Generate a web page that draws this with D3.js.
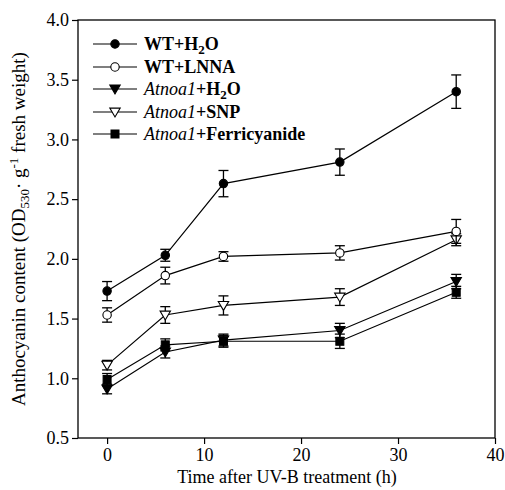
<!DOCTYPE html>
<html>
<head>
<meta charset="utf-8">
<script src="https://cdn.jsdelivr.net/npm/d3@7/dist/d3.min.js"></script>
<style>
body{margin:0;background:#fff;}
text{font-family:"Liberation Serif","Times New Roman",serif;}
</style>
</head>
<body>
<svg id="c" width="505" height="490"></svg>
<script>
const times = [0, 6, 12, 24, 36];
const seriesNames = ["WT+H2O", "WT+LNNA", "Atnoa1+H2O", "Atnoa1+SNP", "Atnoa1+Ferricyanide"];
const wtH2O      = [1.73, 2.03, 2.63, 2.81, 3.40];
const wtH2OErr   = [0.08, 0.05, 0.11, 0.11, 0.14];
const wtLNNA     = [1.53, 1.86, 2.02, 2.05, 2.23];
const wtLNNAErr  = [0.06, 0.07, 0.04, 0.06, 0.10];
const atH2O      = [0.91, 1.22, 1.32, 1.40, 1.81];
const atH2OErr   = [0.04, 0.05, 0.05, 0.06, 0.06];
const atSNP      = [1.11, 1.53, 1.61, 1.68, 2.16];
const atSNPErr   = [0.04, 0.07, 0.08, 0.07, 0.05];
const atFer      = [0.99, 1.28, 1.31, 1.31, 1.72];
const atFerErr   = [0.05, 0.05, 0.05, 0.06, 0.05];
const xTicks = [0, 10, 20, 30, 40];
const yTicks = [0.5, 1.0, 1.5, 2.0, 2.5, 3.0, 3.5, 4.0];

const series = [
  {name: seriesNames[0], v: wtH2O, e: wtH2OErr, shape: "circle", fill: "#000"},
  {name: seriesNames[1], v: wtLNNA, e: wtLNNAErr, shape: "circle", fill: "#fff"},
  {name: seriesNames[2], v: atH2O, e: atH2OErr, shape: "tri", fill: "#000"},
  {name: seriesNames[3], v: atSNP, e: atSNPErr, shape: "tri", fill: "#fff"},
  {name: seriesNames[4], v: atFer, e: atFerErr, shape: "square", fill: "#000"}
];

const svg = d3.select("#c");
const L = 78, R = 495, T = 20, B = 438;
const x = d3.scaleLinear().domain([-3, 40]).range([L, R]);
const y = d3.scaleLinear().domain([0.5, 4.0]).range([B, T]);

svg.append("rect").attr("x", L).attr("y", T).attr("width", R - L).attr("height", B - T)
  .attr("fill", "none").attr("stroke", "#000").attr("stroke-width", 1.3);

const xAxis = svg.append("g").attr("transform", `translate(0,${B})`)
  .call(d3.axisBottom(x).tickValues(xTicks).tickSize(6).tickPadding(4).tickFormat(d3.format("d")));
const yAxis = svg.append("g").attr("transform", `translate(${L},0)`)
  .call(d3.axisLeft(y).tickValues(yTicks).tickSize(6).tickPadding(3).tickFormat(d3.format(".1f")));
[xAxis, yAxis].forEach(a => {
  a.attr("font-size", null).attr("font-family", null);
  a.select(".domain").remove();
  a.selectAll("line").attr("stroke", "#000").attr("stroke-width", 1.2);
  a.selectAll("text").attr("font-size", 18).attr("fill", "#000");
});

function marker(g, shape, fill, cx, cy) {
  if (shape === "circle") {
    g.append("circle").attr("cx", cx).attr("cy", cy).attr("r", 4.2)
      .attr("fill", fill).attr("stroke", "#000").attr("stroke-width", 1.1);
  } else if (shape === "tri") {
    const s = 5.2;
    g.append("path").attr("d", `M${cx - s},${cy - s * 0.75}L${cx + s},${cy - s * 0.75}L${cx},${cy + s * 0.95}Z`)
      .attr("fill", fill).attr("stroke", "#000").attr("stroke-width", 1.1);
  } else {
    g.append("rect").attr("x", cx - 4).attr("y", cy - 4).attr("width", 8).attr("height", 8)
      .attr("fill", fill).attr("stroke", "#000").attr("stroke-width", 1);
  }
}

const line = d3.line().x((d, i) => x(times[i])).y(d => y(d));
const plot = svg.append("g");
series.slice().reverse().forEach(s => {
  const g = plot.append("g");
  g.append("path").attr("d", line(s.v)).attr("fill", "none").attr("stroke", "#000").attr("stroke-width", 1.2);
  s.v.forEach((v, i) => {
    const cx = x(times[i]);
    const y1 = y(v + s.e[i]), y2 = y(v - s.e[i]);
    g.append("line").attr("x1", cx).attr("x2", cx).attr("y1", y1).attr("y2", y2).attr("stroke", "#000").attr("stroke-width", 1.3);
    [y1, y2].forEach(yy => g.append("line").attr("x1", cx - 5).attr("x2", cx + 5).attr("y1", yy).attr("y2", yy)
      .attr("stroke", "#000").attr("stroke-width", 1.3));
  });
  s.v.forEach((v, i) => marker(g, s.shape, s.fill, x(times[i]), y(v)));
});

const legY = [44, 67, 89, 112, 134];
const lg = svg.append("g");
series.forEach((s, i) => {
  const yy = legY[i];
  lg.append("line").attr("x1", 93).attr("x2", 137).attr("y1", yy).attr("y2", yy).attr("stroke", "#000").attr("stroke-width", 1.2);
  marker(lg, s.shape, s.fill, 115, yy);
  const t = lg.append("text").attr("x", 144).attr("y", yy + 6).attr("font-size", 18).attr("font-weight", "bold");
  if (s.name.startsWith("WT")) {
    if (s.name.endsWith("H2O")) {
      t.append("tspan").text("WT+H");
      t.append("tspan").attr("font-size", 13).attr("dy", 4).text("2");
      t.append("tspan").attr("dy", -4).text("O");
    } else {
      t.text(s.name);
    }
  } else {
    const suffix = s.name.slice("Atnoa1".length);
    t.append("tspan").attr("font-style", "italic").attr("font-weight", "normal").text("Atnoa1");
    if (suffix === "+H2O") {
      t.append("tspan").text("+H");
      t.append("tspan").attr("font-size", 13).attr("dy", 4).text("2");
      t.append("tspan").attr("dy", -4).text("O");
    } else {
      t.append("tspan").text(suffix);
    }
  }
});

svg.append("text").attr("x", 287).attr("y", 483).attr("text-anchor", "middle")
  .attr("font-size", 18).text("Time after UV-B treatment (h)");

const yt = svg.append("text").attr("transform", `translate(25,${(T + B) / 2}) rotate(-90)`)
  .attr("text-anchor", "middle").attr("font-size", 19);
yt.append("tspan").text("Anthocyanin content (OD");
yt.append("tspan").attr("font-size", 13).attr("dy", 4).text("530");
yt.append("tspan").attr("dy", -4).text("· g");
yt.append("tspan").attr("font-size", 13).attr("dy", -7).text("-1");
yt.append("tspan").attr("dy", 7).text(" fresh weight)");
</script>
</body>
</html>
